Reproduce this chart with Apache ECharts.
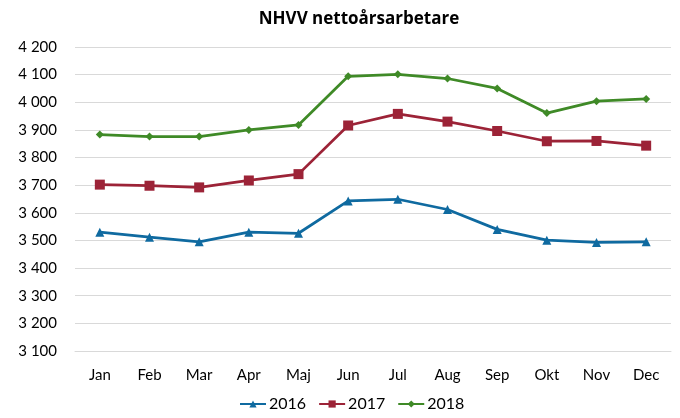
<!DOCTYPE html>
<html>
<head>
<meta charset="utf-8">
<script src="https://cdn.jsdelivr.net/npm/echarts@6/dist/echarts.min.js"></script>
<style>
  html, body { margin: 0; padding: 0; background: #fff; }
  #chart { width: 680px; height: 418px; }
</style>
</head>
<body>
<div id="chart"></div>
<script>
// månader
var months = ['Jan', 'Feb', 'Mar', 'Apr', 'Maj', 'Jun', 'Jul', 'Aug', 'Sep', 'Okt', 'Nov', 'Dec'];
// nettoårsarbetare per år
var y2016 = [3530, 3512, 3495, 3530, 3526, 3643, 3649, 3612, 3540, 3501, 3493, 3495];
var y2017 = [3702, 3698, 3692, 3717, 3740, 3916, 3958, 3930, 3896, 3859, 3860, 3843];
var y2018 = [3883, 3876, 3876, 3900, 3918, 4094, 4101, 4086, 4050, 3961, 4004, 4012];

var font = 'Lato, "Open Sans", sans-serif';

function fmt(v) {
    // tusentalsavgränsare med mellanslag
    return String(v).replace(/\B(?=(\d{3})+(?!\d))/g, ' ');
}

function mkSeries(name, data, color, symbol, size) {
    return {
        name: name,
        type: 'line',
        data: data,
        symbol: symbol,
        symbolSize: size,
        lineStyle: { color: color, width: 2.75 },
        itemStyle: { color: color },
        animation: false
    };
}

var myChart = echarts.init(document.getElementById('chart'));
var option = {
    title: {
        text: 'NHVV nettoårsarbetare',
        left: 354,
        textAlign: 'center',
        top: 6,
        textStyle: { fontFamily: '"Open Sans", sans-serif', fontWeight: 'bold', fontSize: 17, color: '#000' }
    },
    grid: { left: 75, right: 9, top: 47, bottom: 67 },
    legend: {
        bottom: 1,
        left: 234,
        itemWidth: 26,
        itemHeight: 9,
        itemGap: 12,
        textStyle: { fontFamily: font, fontSize: 16, color: '#000', padding: [0, 0, 0, -2] },
        data: ['2016', '2017', '2018']
    },
    xAxis: {
        type: 'category',
        data: months,
        boundaryGap: true,
        axisLine: { lineStyle: { color: '#d9d9d9' } },
        axisTick: { show: false },
        axisLabel: { fontFamily: font, fontSize: 15, color: '#000', margin: 17 }
    },
    yAxis: {
        type: 'value',
        min: 3100,
        max: 4200,
        interval: 100,
        axisLine: { show: false },
        axisTick: { show: false },
        splitLine: { lineStyle: { color: '#d9d9d9', width: 1 } },
        axisLabel: { fontFamily: font, fontSize: 15, color: '#000', margin: 18, formatter: fmt }
    },
    series: [
        mkSeries('2016', y2016, '#0f6aa0', 'triangle', 9),
        mkSeries('2017', y2017, '#9c2337', 'rect', 10),
        mkSeries('2018', y2018, '#3f8a27', 'diamond', 8)
    ]
};
myChart.setOption(option);
</script>
</body>
</html>
